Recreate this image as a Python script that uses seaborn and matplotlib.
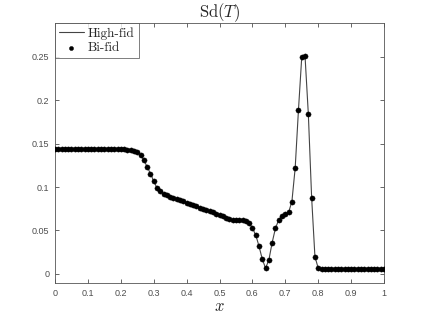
import numpy as np
import pandas as pd
import matplotlib
matplotlib.use('Agg')
import matplotlib.pyplot as plt
import seaborn as sns

# grid of x positions (0.01 step) and standard deviation of T
x_vals = [round(i * 0.01, 2) for i in range(101)]

sd_left = [0.1435] * 21                      # x = 0.00 .. 0.20
sd_drop = [0.1434, 0.1432, 0.1428, 0.1420, 0.1405, 0.1375, 0.1310, 0.1235,
           0.1155, 0.1070, 0.0990, 0.0950, 0.0925, 0.0905]   # 0.21 .. 0.34
sd_slope = [0.0890, 0.0876, 0.0862, 0.0848, 0.0834, 0.0820, 0.0806, 0.0792,
            0.0778, 0.0764, 0.0750, 0.0736, 0.0722, 0.0708, 0.0694, 0.0680,
            0.0664, 0.0645, 0.0628, 0.0618, 0.0618, 0.0622, 0.0624, 0.0612]  # 0.35 .. 0.58
sd_valley = [0.0590, 0.0526, 0.0450, 0.0320, 0.0170, 0.0066, 0.0160, 0.0360,
             0.0526, 0.0622, 0.0668, 0.0688, 0.0710, 0.0833, 0.1220, 0.1890,
             0.2500, 0.2505, 0.1840, 0.0880, 0.0200, 0.0066]  # 0.59 .. 0.80
sd_right = [0.0062] * 20                     # 0.81 .. 1.00

sd_bifid = sd_left + sd_drop + sd_slope + sd_valley + sd_right
sd_highfid = list(sd_bifid)

df = pd.DataFrame({'x': x_vals, 'high': sd_highfid, 'bi': sd_bifid})

sns.set_style('white')
plt.rcParams['mathtext.fontset'] = 'cm'
plt.rcParams['font.family'] = ['Liberation Sans', 'DejaVu Sans']

fig = plt.figure(figsize=(4.24, 3.18), dpi=100)
ax = fig.add_axes([0.1297, 0.110, 0.776, 0.8177])

sns.lineplot(data=df, x='x', y='high', ax=ax, color='#444444', linewidth=0.8,
             label='High-fid')
sns.scatterplot(data=df, x='x', y='bi', ax=ax, color='black', marker='o', s=14,
                edgecolor='black', linewidth=0.3, label='Bi-fid', zorder=3)

ax.set_xlim(0, 1)
ax.set_ylim(-0.0105, 0.289)
ax.set_xticks(np.arange(0, 1.01, 0.1))
ax.set_xticklabels(['0', '0.1', '0.2', '0.3', '0.4', '0.5', '0.6', '0.7', '0.8', '0.9', '1'])
ax.set_yticks([0, 0.05, 0.1, 0.15, 0.2, 0.25])
ax.set_yticklabels(['0', '0.05', '0.1', '0.15', '0.2', '0.25'])
ax.tick_params(direction='in', length=3, width=0.6, labelsize=6.5, colors='#4d4d4d',
               top=True, right=True, bottom=True, left=True, pad=4)
for sp in ax.spines.values():
    sp.set_color('#555555')
    sp.set_linewidth(0.6)

ax.set_title(r'$\mathrm{Sd}(T)$', fontsize=12, pad=4)
ax.set_xlabel(r'$x$', fontsize=12, labelpad=1)
ax.set_ylabel('')

leg = ax.legend(loc='upper left', borderaxespad=0, fancybox=False, frameon=True,
                prop={'family': 'cmr10', 'size': 9.5}, handlelength=1.9,
                handletextpad=0.3, borderpad=0.3, labelspacing=0.2,
                markerscale=0.8)
leg.get_frame().set_edgecolor('#444444')
leg.get_frame().set_linewidth(0.6)

fig.savefig('out.png', dpi=100)
